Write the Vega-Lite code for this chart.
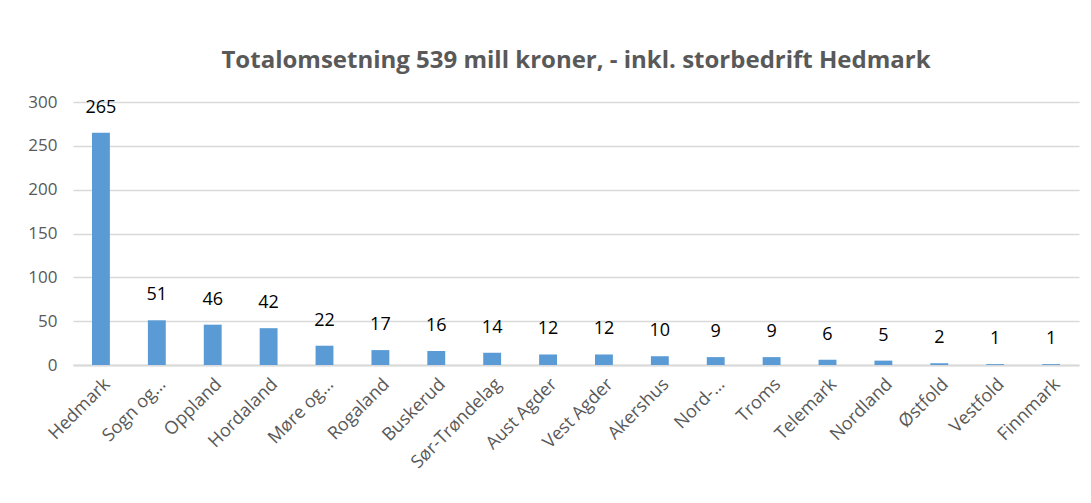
{
  "$schema": "https://vega.github.io/schema/vega-lite/v6.json",
  "autosize": {"type": "none"},
  "padding": {"left": 73, "top": 102, "right": 12, "bottom": 138},
  "width": 1006,
  "height": 263,
  "background": "white",
  "title": {
    "text": "Totalomsetning 539 mill kroner, - inkl. storbedrift Hedmark",
    "font": "Open Sans",
    "fontSize": 24,
    "fontWeight": "bold",
    "color": "#595959",
    "anchor": "middle",
    "offset": 20
  },
  "data": {
    "values": [
      {"fylke": "Hedmark", "verdi": 265},
      {"fylke": "Sogn og…", "verdi": 51},
      {"fylke": "Oppland", "verdi": 46},
      {"fylke": "Hordaland", "verdi": 42},
      {"fylke": "Møre og…", "verdi": 22},
      {"fylke": "Rogaland", "verdi": 17},
      {"fylke": "Buskerud", "verdi": 16},
      {"fylke": "Sør-Trøndelag", "verdi": 14},
      {"fylke": "Aust Agder", "verdi": 12},
      {"fylke": "Vest Agder", "verdi": 12},
      {"fylke": "Akershus", "verdi": 10},
      {"fylke": "Nord-…", "verdi": 9},
      {"fylke": "Troms", "verdi": 9},
      {"fylke": "Telemark", "verdi": 6},
      {"fylke": "Nordland", "verdi": 5},
      {"fylke": "Østfold", "verdi": 2},
      {"fylke": "Vestfold", "verdi": 1},
      {"fylke": "Finnmark", "verdi": 1}
    ]
  },
  "encoding": {
    "x": {
      "field": "fylke",
      "type": "nominal",
      "sort": null,
      "scale": {"paddingInner": 0.68, "paddingOuter": 0.34},
      "axis": {
        "title": null,
        "labelAngle": -45,
        "labelFont": "Open Sans",
        "labelFontSize": 18,
        "labelColor": "#595959",
        "labelPadding": 10,
        "ticks": false,
        "domainColor": "#d9d9d9",
        "domainWidth": 2
      }
    },
    "y": {
      "field": "verdi",
      "type": "quantitative",
      "scale": {"domain": [0, 300]},
      "axis": {
        "title": null,
        "values": [0, 50, 100, 150, 200, 250, 300],
        "labelFont": "Open Sans",
        "labelFontSize": 17,
        "labelColor": "#595959",
        "labelPadding": 16,
        "ticks": false,
        "domain": false,
        "gridColor": "#d9d9d9",
        "gridWidth": 1.5
      }
    }
  },
  "layer": [
    {"mark": {"type": "bar", "color": "#5B9BD5"}},
    {
      "mark": {
        "type": "text",
        "baseline": "bottom",
        "dy": -16,
        "font": "Open Sans",
        "fontSize": 18,
        "color": "#000000"
      },
      "encoding": {"text": {"field": "verdi", "type": "quantitative"}}
    }
  ],
  "config": {"view": {"stroke": null}}
}
